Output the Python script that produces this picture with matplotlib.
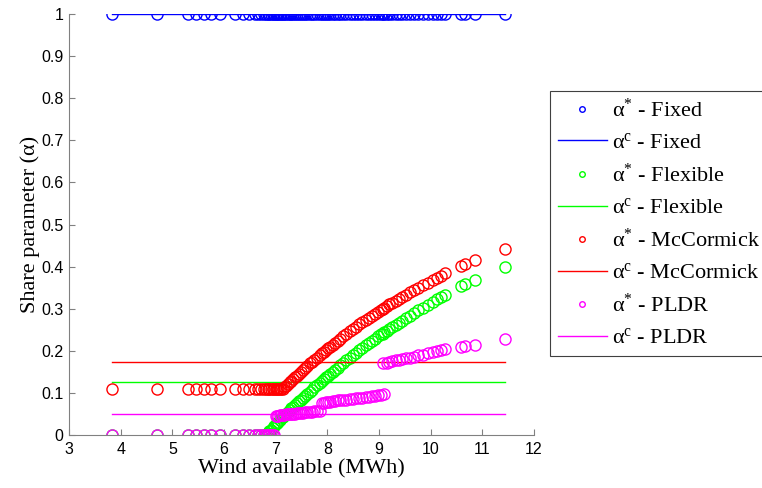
import matplotlib
matplotlib.use("Agg")
import matplotlib.pyplot as plt

plt.rcParams['mathtext.fontset'] = 'custom'
plt.rcParams['mathtext.rm'] = 'Liberation Serif'
plt.rcParams['mathtext.it'] = 'Liberation Serif:italic'

wind = [3.84, 4.71, 5.31, 5.46, 5.61, 5.75, 5.92, 6.21, 6.36, 6.48, 6.60, 6.66, 6.72,
        6.77, 6.81, 6.85, 6.88, 6.91, 6.94, 6.97, 7.00, 7.02, 7.05, 7.08, 7.11, 7.14,
        7.17, 7.20, 7.23, 7.27, 7.30, 7.34, 7.38, 7.41, 7.45, 7.49, 7.53, 7.57, 7.61,
        7.66, 7.70, 7.75, 7.80, 7.85, 7.90, 7.94, 7.98, 8.02, 8.06, 8.10, 8.15, 8.20,
        8.25, 8.31, 8.37, 8.43, 8.49, 8.55, 8.62, 8.68, 8.74, 8.80, 8.86, 8.92, 8.98,
        9.04, 9.07, 9.10, 9.15, 9.20, 9.26, 9.32, 9.38, 9.44, 9.52, 9.60, 9.68, 9.76,
        9.85, 9.95, 10.05, 10.12, 10.20, 10.28, 10.58, 10.66, 10.85, 11.43]

alpha_fixed = [1.0] * len(wind)

alpha_flex = [0.0] * 15 + [
    0.005, 0.009, 0.013, 0.017, 0.021, 0.025, 0.028, 0.032, 0.036, 0.040, 0.043,
    0.047, 0.051, 0.054, 0.059, 0.063, 0.067, 0.072, 0.075, 0.080, 0.084, 0.089,
    0.093, 0.098, 0.103, 0.108, 0.113, 0.118, 0.124, 0.129, 0.133, 0.137, 0.141,
    0.145, 0.150, 0.155, 0.160, 0.166, 0.172, 0.178, 0.184, 0.190, 0.195, 0.202,
    0.207, 0.213, 0.218, 0.224, 0.229, 0.234, 0.239, 0.241, 0.244, 0.248, 0.252,
    0.257, 0.262, 0.266, 0.271, 0.277, 0.283, 0.290, 0.296, 0.302, 0.309, 0.317,
    0.322, 0.327, 0.333, 0.354, 0.358, 0.368, 0.400]

alpha_mcc = [0.11] * 26 + [
    0.113, 0.117, 0.120, 0.125, 0.128, 0.133, 0.138, 0.141, 0.146, 0.150, 0.155,
    0.160, 0.164, 0.170, 0.174, 0.179, 0.184, 0.189, 0.194, 0.198, 0.202, 0.206,
    0.210, 0.214, 0.219, 0.224, 0.229, 0.235, 0.241, 0.247, 0.252, 0.257, 0.263,
    0.268, 0.273, 0.278, 0.283, 0.288, 0.293, 0.298, 0.300, 0.302, 0.306, 0.310,
    0.314, 0.319, 0.323, 0.327, 0.333, 0.339, 0.344, 0.350, 0.356, 0.362, 0.369,
    0.373, 0.378, 0.384, 0.401, 0.405, 0.416, 0.443]

alpha_pldr = [0.0] * 20 + [
    0.045, 0.046, 0.046, 0.047, 0.047, 0.048, 0.048, 0.049, 0.049, 0.050, 0.050,
    0.051, 0.051, 0.052, 0.052, 0.053, 0.053, 0.054, 0.054, 0.055, 0.055, 0.056,
    0.057, 0.058,
    0.076, 0.077, 0.078, 0.078, 0.079, 0.080, 0.081, 0.082, 0.082, 0.083, 0.084,
    0.085, 0.086, 0.087, 0.088, 0.089, 0.090, 0.091, 0.092, 0.093, 0.094, 0.095,
    0.170, 0.097,
    0.172, 0.174, 0.175, 0.177, 0.178, 0.180, 0.182, 0.184, 0.186, 0.189, 0.191,
    0.194, 0.197, 0.199, 0.201, 0.204, 0.209, 0.211, 0.214, 0.229]

# constant (alpha^c) levels per scheme
alpha_c = {'Fixed': 1.0, 'Flexible': 0.126, 'McCormick': 0.174, 'PLDR': 0.051}
colors = {'Fixed': 'b', 'Flexible': 'lime', 'McCormick': 'r', 'PLDR': 'magenta'}
series = {'Fixed': alpha_fixed, 'Flexible': alpha_flex,
          'McCormick': alpha_mcc, 'PLDR': alpha_pldr}

fig = plt.figure(figsize=(7.62, 4.88), dpi=100)
ax = fig.add_axes([0.0906, 0.1086, 0.6102, 0.8627])

handles = []
for name in ['Fixed', 'Flexible', 'McCormick', 'PLDR']:
    c = colors[name]
    h1, = ax.plot(wind, series[name], 'o', mfc='none', mec=c, ms=8, mew=1.0,
                  label=r'α$^{*}$ - ' + name)
    h2, = ax.plot([min(wind), max(wind)], [alpha_c[name]] * 2, '-', color=c, lw=1.0,
                  label=r'α$^{\mathrm{c}}$ - ' + name)
    handles += [h1, h2]

ax.set_xlim(3, 12)
ax.set_ylim(0, 1)
ax.set_xticks(range(3, 13))
ax.set_yticks([0, 0.1, 0.2, 0.3, 0.4, 0.5, 0.6, 0.7, 0.8, 0.9, 1])
ax.set_yticklabels(['0', '0.1', '0.2', '0.3', '0.4', '0.5', '0.6', '0.7', '0.8', '0.9', '1'])
for s in ['top', 'right']:
    ax.spines[s].set_visible(False)
for s in ['left', 'bottom']:
    ax.spines[s].set_color('#808080')
    ax.spines[s].set_linewidth(0.8)
ax.tick_params(direction='in', length=4, color='#808080', labelsize=11.5)
ax.tick_params(axis='x', pad=5)
ax.tick_params(axis='y', pad=4)
for lab in ax.get_xticklabels() + ax.get_yticklabels():
    lab.set_fontfamily('Liberation Sans')
ax.set_xlabel('Wind available (MWh)', fontfamily='Liberation Serif', fontsize=16, labelpad=2)
ax.set_ylabel('Share parameter (α)', fontfamily='Liberation Serif', fontsize=16, labelpad=1)

leg = fig.legend(handles=handles, loc='upper left', bbox_to_anchor=(0.722, 0.8135),
                 prop={'family': 'Liberation Serif', 'size': 16}, frameon=True,
                 fancybox=False, edgecolor='#404040', framealpha=1, markerscale=0.5,
                 handlelength=2.2, handletextpad=0.25, labelspacing=0.48,
                 borderpad=0.35, borderaxespad=0)
leg.get_frame().set_linewidth(0.8)

fig.savefig('out.png', dpi=100)
